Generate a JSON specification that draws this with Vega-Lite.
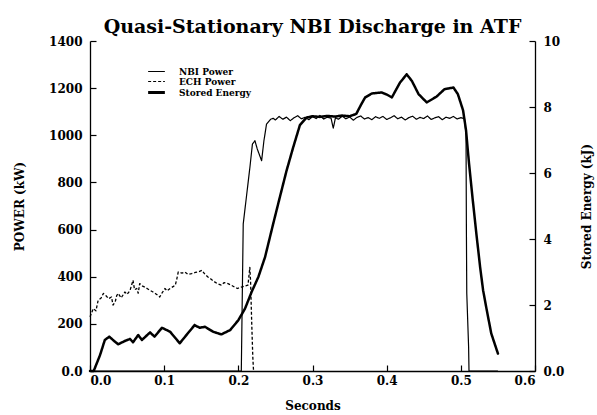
{
  "$schema": "https://vega.github.io/schema/vega-lite/v6.json",
  "width": 445,
  "height": 330,
  "autosize": {"type": "none"},
  "padding": {"left": 90, "top": 41, "right": 62, "bottom": 44},
  "background": "white",
  "config": {
    "view": {"stroke": null},
    "font": "DejaVu Serif",
    "axis": {
      "grid": false,
      "domainColor": "black",
      "domainWidth": 1.3,
      "tickColor": "black",
      "tickWidth": 1.2,
      "tickSize": -6,
      "labelColor": "black",
      "labelFont": "DejaVu Serif",
      "labelFontWeight": "bold",
      "labelFontSize": 12,
      "titleColor": "black",
      "titleFont": "DejaVu Serif",
      "titleFontWeight": "bold",
      "titleFontSize": 12
    }
  },
  "title": {
    "text": "Quasi-Stationary NBI Discharge in ATF",
    "font": "DejaVu Serif",
    "fontSize": 19,
    "fontWeight": "bold",
    "color": "black",
    "anchor": "middle",
    "offset": -2
  },
  "datasets": {
    "power": [
      {"t": 0.0, "p": 0, "series": "NBI Power"},
      {"t": 0.204, "p": 0, "series": "NBI Power"},
      {"t": 0.2066, "p": 624, "series": "NBI Power"},
      {"t": 0.2156, "p": 864, "series": "NBI Power"},
      {"t": 0.219, "p": 963, "series": "NBI Power"},
      {"t": 0.2224, "p": 977, "series": "NBI Power"},
      {"t": 0.2255, "p": 942, "series": "NBI Power"},
      {"t": 0.2314, "p": 892, "series": "NBI Power"},
      {"t": 0.2345, "p": 977, "series": "NBI Power"},
      {"t": 0.238, "p": 1047, "series": "NBI Power"},
      {"t": 0.2435, "p": 1068, "series": "NBI Power"},
      {"t": 0.247, "p": 1072, "series": "NBI Power"},
      {"t": 0.25, "p": 1065, "series": "NBI Power"},
      {"t": 0.255, "p": 1080, "series": "NBI Power"},
      {"t": 0.26, "p": 1068, "series": "NBI Power"},
      {"t": 0.265, "p": 1077, "series": "NBI Power"},
      {"t": 0.27, "p": 1062, "series": "NBI Power"},
      {"t": 0.275, "p": 1074, "series": "NBI Power"},
      {"t": 0.28, "p": 1083, "series": "NBI Power"},
      {"t": 0.285, "p": 1070, "series": "NBI Power"},
      {"t": 0.29, "p": 1076, "series": "NBI Power"},
      {"t": 0.295, "p": 1066, "series": "NBI Power"},
      {"t": 0.3, "p": 1079, "series": "NBI Power"},
      {"t": 0.305, "p": 1071, "series": "NBI Power"},
      {"t": 0.31, "p": 1084, "series": "NBI Power"},
      {"t": 0.315, "p": 1069, "series": "NBI Power"},
      {"t": 0.32, "p": 1077, "series": "NBI Power"},
      {"t": 0.325, "p": 1073, "series": "NBI Power"},
      {"t": 0.328, "p": 1030, "series": "NBI Power"},
      {"t": 0.331, "p": 1075, "series": "NBI Power"},
      {"t": 0.335, "p": 1068, "series": "NBI Power"},
      {"t": 0.34, "p": 1081, "series": "NBI Power"},
      {"t": 0.345, "p": 1070, "series": "NBI Power"},
      {"t": 0.35, "p": 1078, "series": "NBI Power"},
      {"t": 0.355, "p": 1064, "series": "NBI Power"},
      {"t": 0.36, "p": 1076, "series": "NBI Power"},
      {"t": 0.365, "p": 1082, "series": "NBI Power"},
      {"t": 0.37, "p": 1069, "series": "NBI Power"},
      {"t": 0.375, "p": 1075, "series": "NBI Power"},
      {"t": 0.38, "p": 1066, "series": "NBI Power"},
      {"t": 0.385, "p": 1079, "series": "NBI Power"},
      {"t": 0.39, "p": 1072, "series": "NBI Power"},
      {"t": 0.395, "p": 1080, "series": "NBI Power"},
      {"t": 0.4, "p": 1067, "series": "NBI Power"},
      {"t": 0.405, "p": 1074, "series": "NBI Power"},
      {"t": 0.41, "p": 1083, "series": "NBI Power"},
      {"t": 0.415, "p": 1070, "series": "NBI Power"},
      {"t": 0.42, "p": 1077, "series": "NBI Power"},
      {"t": 0.425, "p": 1065, "series": "NBI Power"},
      {"t": 0.43, "p": 1075, "series": "NBI Power"},
      {"t": 0.435, "p": 1081, "series": "NBI Power"},
      {"t": 0.44, "p": 1068, "series": "NBI Power"},
      {"t": 0.445, "p": 1076, "series": "NBI Power"},
      {"t": 0.45, "p": 1071, "series": "NBI Power"},
      {"t": 0.455, "p": 1082, "series": "NBI Power"},
      {"t": 0.46, "p": 1067, "series": "NBI Power"},
      {"t": 0.465, "p": 1074, "series": "NBI Power"},
      {"t": 0.47, "p": 1079, "series": "NBI Power"},
      {"t": 0.475, "p": 1066, "series": "NBI Power"},
      {"t": 0.48, "p": 1077, "series": "NBI Power"},
      {"t": 0.485, "p": 1072, "series": "NBI Power"},
      {"t": 0.49, "p": 1080, "series": "NBI Power"},
      {"t": 0.495, "p": 1069, "series": "NBI Power"},
      {"t": 0.5, "p": 1075, "series": "NBI Power"},
      {"t": 0.505, "p": 1070, "series": "NBI Power"},
      {"t": 0.507, "p": 1000, "series": "NBI Power"},
      {"t": 0.5075, "p": 600, "series": "NBI Power"},
      {"t": 0.508, "p": 330, "series": "NBI Power"},
      {"t": 0.5105, "p": 100, "series": "NBI Power"},
      {"t": 0.511, "p": 0, "series": "NBI Power"},
      {"t": 0.55, "p": 0, "series": "NBI Power"},
      {"t": 0.0, "p": 230, "series": "ECH Power"},
      {"t": 0.0045, "p": 265, "series": "ECH Power"},
      {"t": 0.008, "p": 255, "series": "ECH Power"},
      {"t": 0.011, "p": 300, "series": "ECH Power"},
      {"t": 0.015, "p": 310, "series": "ECH Power"},
      {"t": 0.018, "p": 329, "series": "ECH Power"},
      {"t": 0.022, "p": 318, "series": "ECH Power"},
      {"t": 0.025, "p": 307, "series": "ECH Power"},
      {"t": 0.029, "p": 314, "series": "ECH Power"},
      {"t": 0.031, "p": 280, "series": "ECH Power"},
      {"t": 0.034, "p": 293, "series": "ECH Power"},
      {"t": 0.036, "p": 320, "series": "ECH Power"},
      {"t": 0.038, "p": 329, "series": "ECH Power"},
      {"t": 0.042, "p": 310, "series": "ECH Power"},
      {"t": 0.047, "p": 335, "series": "ECH Power"},
      {"t": 0.05, "p": 325, "series": "ECH Power"},
      {"t": 0.054, "p": 342, "series": "ECH Power"},
      {"t": 0.058, "p": 385, "series": "ECH Power"},
      {"t": 0.06, "p": 345, "series": "ECH Power"},
      {"t": 0.063, "p": 350, "series": "ECH Power"},
      {"t": 0.065, "p": 330, "series": "ECH Power"},
      {"t": 0.067, "p": 371, "series": "ECH Power"},
      {"t": 0.071, "p": 360, "series": "ECH Power"},
      {"t": 0.074, "p": 356, "series": "ECH Power"},
      {"t": 0.078, "p": 348, "series": "ECH Power"},
      {"t": 0.081, "p": 342, "series": "ECH Power"},
      {"t": 0.085, "p": 335, "series": "ECH Power"},
      {"t": 0.088, "p": 329, "series": "ECH Power"},
      {"t": 0.091, "p": 322, "series": "ECH Power"},
      {"t": 0.094, "p": 314, "series": "ECH Power"},
      {"t": 0.097, "p": 330, "series": "ECH Power"},
      {"t": 0.101, "p": 350, "series": "ECH Power"},
      {"t": 0.104, "p": 340, "series": "ECH Power"},
      {"t": 0.108, "p": 350, "series": "ECH Power"},
      {"t": 0.112, "p": 358, "series": "ECH Power"},
      {"t": 0.115, "p": 364, "series": "ECH Power"},
      {"t": 0.117, "p": 390, "series": "ECH Power"},
      {"t": 0.119, "p": 420, "series": "ECH Power"},
      {"t": 0.124, "p": 415, "series": "ECH Power"},
      {"t": 0.128, "p": 420, "series": "ECH Power"},
      {"t": 0.132, "p": 410, "series": "ECH Power"},
      {"t": 0.137, "p": 413, "series": "ECH Power"},
      {"t": 0.142, "p": 418, "series": "ECH Power"},
      {"t": 0.147, "p": 422, "series": "ECH Power"},
      {"t": 0.151, "p": 427, "series": "ECH Power"},
      {"t": 0.155, "p": 410, "series": "ECH Power"},
      {"t": 0.159, "p": 399, "series": "ECH Power"},
      {"t": 0.163, "p": 390, "series": "ECH Power"},
      {"t": 0.168, "p": 378, "series": "ECH Power"},
      {"t": 0.172, "p": 370, "series": "ECH Power"},
      {"t": 0.177, "p": 364, "series": "ECH Power"},
      {"t": 0.181, "p": 375, "series": "ECH Power"},
      {"t": 0.186, "p": 371, "series": "ECH Power"},
      {"t": 0.19, "p": 365, "series": "ECH Power"},
      {"t": 0.195, "p": 356, "series": "ECH Power"},
      {"t": 0.199, "p": 350, "series": "ECH Power"},
      {"t": 0.204, "p": 356, "series": "ECH Power"},
      {"t": 0.208, "p": 360, "series": "ECH Power"},
      {"t": 0.213, "p": 364, "series": "ECH Power"},
      {"t": 0.2155, "p": 440, "series": "ECH Power"},
      {"t": 0.2165, "p": 380, "series": "ECH Power"},
      {"t": 0.218, "p": 208, "series": "ECH Power"},
      {"t": 0.2195, "p": 60, "series": "ECH Power"},
      {"t": 0.2205, "p": 0, "series": "ECH Power"}
    ],
    "energy": [
      {"t": 0.0, "e": 0, "series": "Stored Energy"},
      {"t": 0.005, "e": 0, "series": "Stored Energy"},
      {"t": 0.0135, "e": 0.48, "series": "Stored Energy"},
      {"t": 0.02, "e": 0.94, "series": "Stored Energy"},
      {"t": 0.026, "e": 1.04, "series": "Stored Energy"},
      {"t": 0.032, "e": 0.92, "series": "Stored Energy"},
      {"t": 0.038, "e": 0.81, "series": "Stored Energy"},
      {"t": 0.047, "e": 0.91, "series": "Stored Energy"},
      {"t": 0.054, "e": 0.97, "series": "Stored Energy"},
      {"t": 0.058, "e": 0.87, "series": "Stored Energy"},
      {"t": 0.065, "e": 1.09, "series": "Stored Energy"},
      {"t": 0.07, "e": 0.94, "series": "Stored Energy"},
      {"t": 0.081, "e": 1.17, "series": "Stored Energy"},
      {"t": 0.087, "e": 1.04, "series": "Stored Energy"},
      {"t": 0.097, "e": 1.31, "series": "Stored Energy"},
      {"t": 0.108, "e": 1.19, "series": "Stored Energy"},
      {"t": 0.121, "e": 0.84, "series": "Stored Energy"},
      {"t": 0.13, "e": 1.09, "series": "Stored Energy"},
      {"t": 0.141, "e": 1.39, "series": "Stored Energy"},
      {"t": 0.148, "e": 1.31, "series": "Stored Energy"},
      {"t": 0.155, "e": 1.34, "series": "Stored Energy"},
      {"t": 0.166, "e": 1.19, "series": "Stored Energy"},
      {"t": 0.177, "e": 1.11, "series": "Stored Energy"},
      {"t": 0.189, "e": 1.24, "series": "Stored Energy"},
      {"t": 0.2, "e": 1.54, "series": "Stored Energy"},
      {"t": 0.209, "e": 1.89, "series": "Stored Energy"},
      {"t": 0.218, "e": 2.4, "series": "Stored Energy"},
      {"t": 0.227, "e": 2.85, "series": "Stored Energy"},
      {"t": 0.236, "e": 3.45, "series": "Stored Energy"},
      {"t": 0.247, "e": 4.46, "series": "Stored Energy"},
      {"t": 0.256, "e": 5.27, "series": "Stored Energy"},
      {"t": 0.265, "e": 6.07, "series": "Stored Energy"},
      {"t": 0.274, "e": 6.78, "series": "Stored Energy"},
      {"t": 0.283, "e": 7.45, "series": "Stored Energy"},
      {"t": 0.292, "e": 7.68, "series": "Stored Energy"},
      {"t": 0.3, "e": 7.72, "series": "Stored Energy"},
      {"t": 0.31, "e": 7.7, "series": "Stored Energy"},
      {"t": 0.32, "e": 7.73, "series": "Stored Energy"},
      {"t": 0.33, "e": 7.71, "series": "Stored Energy"},
      {"t": 0.34, "e": 7.74, "series": "Stored Energy"},
      {"t": 0.35, "e": 7.72, "series": "Stored Energy"},
      {"t": 0.359, "e": 7.79, "series": "Stored Energy"},
      {"t": 0.365, "e": 8.05, "series": "Stored Energy"},
      {"t": 0.371, "e": 8.29, "series": "Stored Energy"},
      {"t": 0.38, "e": 8.41, "series": "Stored Energy"},
      {"t": 0.393, "e": 8.44, "series": "Stored Energy"},
      {"t": 0.4, "e": 8.38, "series": "Stored Energy"},
      {"t": 0.407, "e": 8.29, "series": "Stored Energy"},
      {"t": 0.418, "e": 8.74, "series": "Stored Energy"},
      {"t": 0.427, "e": 8.99, "series": "Stored Energy"},
      {"t": 0.434, "e": 8.79, "series": "Stored Energy"},
      {"t": 0.443, "e": 8.39, "series": "Stored Energy"},
      {"t": 0.454, "e": 8.14, "series": "Stored Energy"},
      {"t": 0.467, "e": 8.31, "series": "Stored Energy"},
      {"t": 0.478, "e": 8.54, "series": "Stored Energy"},
      {"t": 0.49, "e": 8.59, "series": "Stored Energy"},
      {"t": 0.496, "e": 8.39, "series": "Stored Energy"},
      {"t": 0.503, "e": 7.9, "series": "Stored Energy"},
      {"t": 0.507, "e": 7.3, "series": "Stored Energy"},
      {"t": 0.511, "e": 6.3, "series": "Stored Energy"},
      {"t": 0.516, "e": 5.2, "series": "Stored Energy"},
      {"t": 0.521, "e": 4.15, "series": "Stored Energy"},
      {"t": 0.526, "e": 3.15, "series": "Stored Energy"},
      {"t": 0.53, "e": 2.45, "series": "Stored Energy"},
      {"t": 0.535, "e": 1.84, "series": "Stored Energy"},
      {"t": 0.541, "e": 1.14, "series": "Stored Energy"},
      {"t": 0.546, "e": 0.8, "series": "Stored Energy"},
      {"t": 0.55, "e": 0.53, "series": "Stored Energy"}
    ]
  },
  "layer": [
    {
      "data": {"name": "power"},
      "mark": {"type": "line", "color": "black", "strokeJoin": "round"},
      "encoding": {
        "x": {
          "field": "t", "type": "quantitative",
          "scale": {"domain": [0, 0.6], "nice": false, "zero": false},
          "axis": {"title": "Seconds", "values": [0, 0.1, 0.2, 0.3, 0.4, 0.5, 0.6], "format": ".1f", "labelPadding": 10, "titlePadding": 14}
        },
        "y": {
          "field": "p", "type": "quantitative",
          "scale": {"domain": [0, 1400], "nice": false},
          "axis": {"title": "POWER (kW)", "orient": "left", "values": [0, 200, 400, 600, 800, 1000, 1200, 1400], "labelExpr": "datum.value == 0 ? '0.0' : datum.label", "format": "d", "labelPadding": 14, "titlePadding": 22}
        },
        "strokeDash": {
          "field": "series", "type": "nominal",
          "scale": {"type": "ordinal", "domain": ["NBI Power", "ECH Power", "Stored Energy"], "range": [[1, 0], [3, 2], [1, 0]]},
          "legend": {
            "title": null,
            "orient": "none",
            "legendX": 62,
            "legendY": 26,
            "symbolType": "M-2,0H2",
            "symbolSize": 70,
            "symbolStrokeColor": "black",
            "symbolFillColor": "transparent",
            "labelFont": "DejaVu Serif",
            "labelFontWeight": "bold",
            "labelFontSize": 9,
            "labelColor": "black",
            "labelOffset": 18,
            "rowPadding": -1,
            "padding": 0,
            "encode": {"symbols": {"update": {"strokeWidth": {"signal": "datum.value === 'Stored Energy' ? 2.8 : 1.2"}}}}
          }
        },
        "strokeWidth": {
          "field": "series", "type": "nominal",
          "scale": {"type": "ordinal", "domain": ["NBI Power", "ECH Power", "Stored Energy"], "range": [1.2, 1.3, 2.9]},
          "legend": null
        }
      }
    },
    {
      "data": {"name": "energy"},
      "mark": {"type": "line", "color": "black", "strokeJoin": "round", "strokeCap": "round"},
      "encoding": {
        "x": {"field": "t", "type": "quantitative"},
        "y": {
          "field": "e", "type": "quantitative",
          "scale": {"domain": [0, 10], "nice": false},
          "axis": {"title": "Stored Energy (kJ)", "orient": "right", "titleAngle": -90, "values": [0, 2, 4, 6, 8, 10], "labelExpr": "datum.value == 0 ? '0.0' : datum.label", "labelPadding": 14, "titlePadding": 30}
        },
        "strokeDash": {"field": "series", "type": "nominal", "legend": null},
        "strokeWidth": {"field": "series", "type": "nominal", "legend": null}
      }
    }
  ],
  "resolve": {"scale": {"y": "independent"}}
}
